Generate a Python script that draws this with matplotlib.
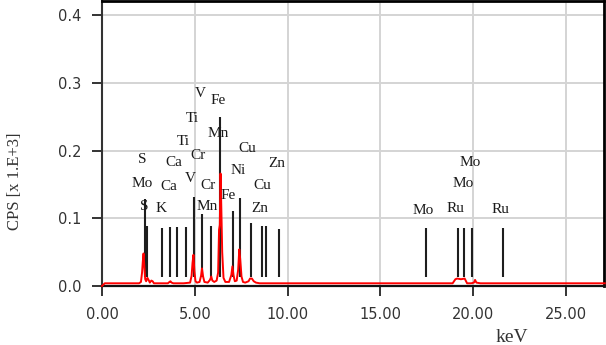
import matplotlib
matplotlib.use("Agg")
import matplotlib.pyplot as plt

# ---- data ----
# measured spectrum (keV, CPS x1e3)
spec_e = [0.00, 0.15, 0.60, 1.50, 2.00, 2.10, 2.16, 2.20, 2.24, 2.28, 2.33, 2.38, 2.45, 2.51, 2.58, 2.66, 2.73,
          2.80, 3.20, 3.55, 3.64, 3.69, 3.75, 3.85, 4.40, 4.75, 4.83, 4.88, 4.93, 4.98, 5.04, 5.12, 5.26, 5.34,
          5.39, 5.45, 5.52, 5.70, 5.82, 5.89, 5.95, 6.05, 6.18, 6.26, 6.31, 6.35, 6.39, 6.43, 6.48, 6.55, 6.65,
          6.85, 6.97, 7.03, 7.09, 7.16, 7.26, 7.34, 7.40, 7.45, 7.52, 7.60, 7.72, 7.90, 7.98, 8.08, 8.18, 8.30,
          8.50, 9.00, 12.0, 16.0, 18.90, 19.05, 19.15, 19.35, 19.55, 19.68, 19.90, 20.05, 20.11, 20.18, 20.40,
          24.0, 27.1]
spec_c = [0.000, 0.004, 0.004, 0.004, 0.004, 0.006, 0.020, 0.036, 0.048, 0.030, 0.010, 0.007, 0.012, 0.009,
          0.005, 0.008, 0.007, 0.004, 0.004, 0.004, 0.006, 0.007, 0.005, 0.004, 0.004, 0.005, 0.015, 0.034,
          0.046, 0.022, 0.007, 0.005, 0.006, 0.015, 0.026, 0.014, 0.006, 0.005, 0.009, 0.014, 0.008, 0.006,
          0.008, 0.020, 0.083, 0.090, 0.166, 0.118, 0.050, 0.012, 0.006, 0.006, 0.016, 0.029, 0.016, 0.007,
          0.008, 0.024, 0.054, 0.040, 0.014, 0.006, 0.005, 0.007, 0.011, 0.011, 0.007, 0.005, 0.004, 0.004,
          0.004, 0.004, 0.004, 0.010, 0.011, 0.010, 0.011, 0.004, 0.004, 0.005, 0.009, 0.005, 0.004, 0.004,
          0.004]

# element marker lines (keV, top height, bottom height)
marker_e = [2.31, 2.42, 3.23, 3.68, 4.04, 4.54, 4.94, 5.39, 5.89, 6.37, 7.06, 7.45, 8.04, 8.65, 8.84, 9.55,
            17.46, 19.21, 19.52, 19.97, 21.64]
marker_top = [0.129, 0.088, 0.086, 0.087, 0.087, 0.087, 0.132, 0.107, 0.088, 0.250, 0.110, 0.130, 0.093,
              0.088, 0.088, 0.084, 0.086, 0.086, 0.086, 0.086, 0.086]
marker_bottom = 0.014

# element labels
label_text = ["V", "Fe", "Ti", "Mn", "Ti", "Cu", "Cr", "S", "Ca", "Zn", "Ni", "V", "Mo", "Ca", "Cr", "Cu",
              "Fe", "S", "K", "Mn", "Zn", "Mo", "Mo", "Mo", "Ru", "Ru"]
label_x = [5.30, 6.28, 4.85, 6.28, 4.40, 7.81, 5.20, 2.16, 3.86, 9.43, 7.36, 4.76, 2.16, 3.59, 5.74, 8.62,
           6.82, 2.30, 3.20, 5.66, 8.53, 19.84, 19.45, 17.30, 19.04, 21.50]
label_y = [0.284, 0.274, 0.247, 0.225, 0.214, 0.203, 0.193, 0.187, 0.182, 0.181, 0.171, 0.159, 0.152, 0.147,
           0.149, 0.148, 0.134, 0.118, 0.115, 0.117, 0.115, 0.182, 0.151, 0.112, 0.115, 0.113]

x_ticks = [0, 5, 10, 15, 20, 25]
y_ticks = [0.0, 0.1, 0.2, 0.3, 0.4]

# ---- figure ----
fig = plt.figure(figsize=(6.06, 3.45), dpi=100)
ax = fig.add_axes([0.1683, 0.171, 0.8284, 0.8275])
ax.set_xlim(0, 27.06)
ax.set_ylim(0, 0.4214)

ax.set_xticks(x_ticks)
ax.set_xticklabels([f"{v:.2f}" for v in x_ticks])
ax.set_yticks(y_ticks)
ax.set_yticklabels([f"{v:.1f}" for v in y_ticks])
ax.grid(True, color="#d4d4d4", linewidth=1.4, zorder=0)
ax.set_axisbelow(True)

ax.tick_params(axis="both", direction="out", length=7, width=1.4, color="#333333",
               labelcolor="#333333", labelsize=10.5, pad=8)
for lbl in ax.get_xticklabels() + ax.get_yticklabels():
    lbl.set_fontfamily("DejaVu Sans")

ax.spines["left"].set_color("#333333")
ax.spines["left"].set_linewidth(1.5)
ax.spines["bottom"].set_color("#111111")
ax.spines["bottom"].set_linewidth(1.6)
ax.spines["top"].set_color("#000000")
ax.spines["top"].set_linewidth(2.0)
ax.spines["right"].set_color("#000000")
ax.spines["right"].set_linewidth(2.0)

ax.vlines(marker_e, marker_bottom, marker_top, colors="#1e1e1e", linewidth=1.5, zorder=3)
ax.plot(spec_e, spec_c, color="#ff0000", linewidth=1.4, zorder=4, clip_on=False)

for t, x, y in zip(label_text, label_x, label_y):
    ax.text(x, y, t, ha="center", va="center", fontsize=11, family="Liberation Serif",
            color="#1a1a1a", zorder=5)

ax.set_ylabel("CPS [x 1.E+3]", family="Liberation Serif", fontsize=12, color="#333333")
ax.yaxis.set_label_coords(-0.157, 0.367)
ax.set_xlabel("keV", family="Liberation Serif", fontsize=14, color="#333333")
ax.xaxis.set_label_coords(0.817, -0.150)

fig.savefig("out.png", dpi=100)
